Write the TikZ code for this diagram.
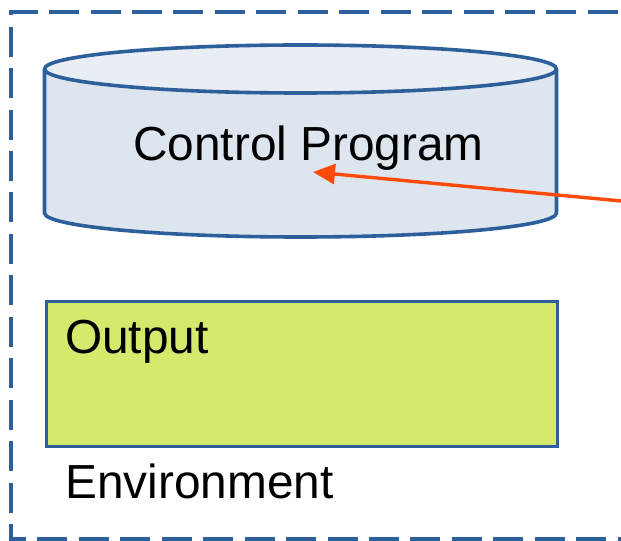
\documentclass[tikz,border=0pt]{standalone}
\usepackage{fontspec}
\setmainfont{Liberation Sans}
\usetikzlibrary{arrows.meta}

\definecolor{frameblue}{HTML}{2D5F9B}
\definecolor{drumside}{HTML}{DDE5EF}
\definecolor{drumtop}{HTML}{E9EEF4}
\definecolor{outfill}{HTML}{D5E96C}
\definecolor{pointer}{HTML}{FF4A0A}

\tikzset{
  envframe/.style={draw=frameblue, line width=3.4bp,
    dash pattern=on 30bp off 11.44bp},
  drumline/.style={draw=frameblue, line width=3.6bp, line join=round},
  outbox/.style={draw=frameblue, line width=3bp, fill=outfill},
  label/.style={inner sep=0pt, font=\fontsize{47.8bp}{57bp}\selectfont},
  pointerline/.style={draw=pointer, line width=3.4bp,
    -{Triangle[length=22bp, width=20bp]}}
}

\begin{document}
\begin{tikzpicture}[x=1bp, y=-1bp]
  \useasboundingbox (0,0) rectangle (621,541);
  \clip (0,0) rectangle (621,541);

  % environment boundary (runs past the right edge)
  \draw[envframe] (647.6,539) -- (11,539) -- (11,12) -- (660,12);

  % control program drum
  \path[fill=drumside] (44.5,69) -- (44.5,213)
    arc[start angle=180, end angle=360, x radius=256, y radius=-24]
    -- (556.5,69) -- cycle;
  \draw[drumline] (44.5,69) -- (44.5,213)
    arc[start angle=180, end angle=360, x radius=256, y radius=-24]
    -- (556.5,69);
  \draw[drumline, fill=drumtop] (300.5,69) ellipse[x radius=256, y radius=24];
  \node[label, anchor=base west] (prog) at (133,161) {Control Program};
  \coordinate (progpt) at (313,172);

  % output block
  \node[outbox, minimum width=511bp, minimum height=145bp, inner sep=0pt,
        anchor=north west] (out) at (44.5,299.5) {};
  \node[label, anchor=base west] (outlbl) at (65,353) {Output};

  % environment caption
  \node[label, anchor=base west] (env) at (65,498) {Environment};

  % incoming pointer
  \coordinate (src) at (650,203.7);
  \draw[pointerline] (src) -- (progpt);
\end{tikzpicture}
\end{document}
